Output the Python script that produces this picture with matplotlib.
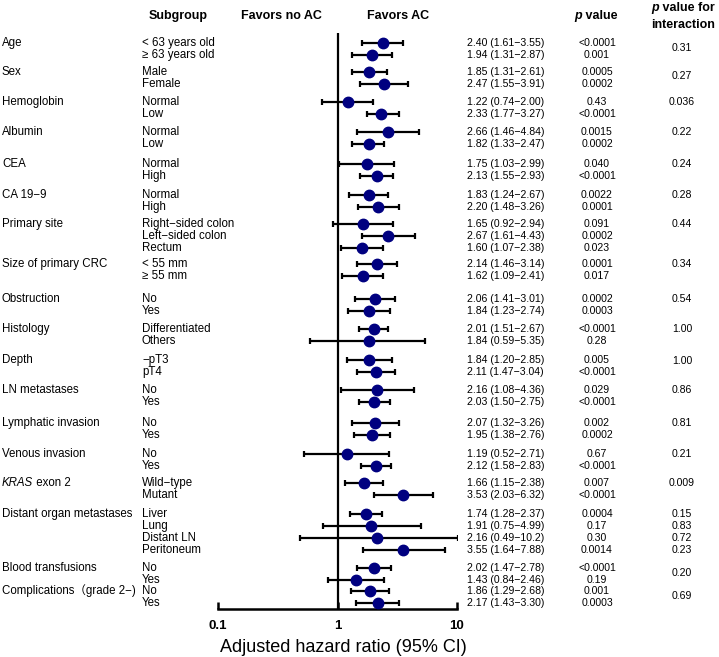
import matplotlib
matplotlib.use("Agg")
import matplotlib.pyplot as plt
import numpy as np

plt.rcParams['font.family'] = ['Liberation Sans', 'Noto Sans CJK JP', 'DejaVu Sans']

# ---------------- data ----------------
groups = ["Age", "Sex", "Hemoglobin", "Albumin", "CEA", "CA 19−9", "Primary site",
          "Size of primary CRC", "Obstruction", "Histology", "Depth", "LN metastases",
          "Lymphatic invasion", "Venous invasion", "KRAS exon 2",
          "Distant organ metastases", "Blood transfusions", "Complications（grade 2−)"]
subgroups = [
    ["< 63 years old", "≥ 63 years old"],
    ["Male", "Female"],
    ["Normal", "Low"],
    ["Normal", "Low"],
    ["Normal", "High"],
    ["Normal", "High"],
    ["Right−sided colon", "Left−sided colon", "Rectum"],
    ["< 55 mm", "≥ 55 mm"],
    ["No", "Yes"],
    ["Differentiated", "Others"],
    ["−pT3", "pT4"],
    ["No", "Yes"],
    ["No", "Yes"],
    ["No", "Yes"],
    ["Wild−type", "Mutant"],
    ["Liver", "Lung", "Distant LN", "Peritoneum"],
    ["No", "Yes"],
    ["No", "Yes"],
]
hr = [2.40, 1.94, 1.85, 2.47, 1.22, 2.33, 2.66, 1.82, 1.75, 2.13, 1.83, 2.20,
      1.65, 2.67, 1.60, 2.14, 1.62, 2.06, 1.84, 2.01, 1.84, 1.84, 2.11,
      2.16, 2.03, 2.07, 1.95, 1.19, 2.12, 1.66, 3.53,
      1.74, 1.91, 2.16, 3.55, 2.02, 1.43, 1.86, 2.17]
ci_low = [1.61, 1.31, 1.31, 1.55, 0.74, 1.77, 1.46, 1.33, 1.03, 1.55, 1.24, 1.48,
          0.92, 1.61, 1.07, 1.46, 1.09, 1.41, 1.23, 1.51, 0.59, 1.20, 1.47,
          1.08, 1.50, 1.32, 1.38, 0.52, 1.58, 1.15, 2.03,
          1.28, 0.75, 0.49, 1.64, 1.47, 0.84, 1.29, 1.43]
ci_high = [3.55, 2.87, 2.61, 3.91, 2.00, 3.27, 4.84, 2.47, 2.99, 2.93, 2.67, 3.26,
           2.94, 4.43, 2.38, 3.14, 2.41, 3.01, 2.74, 2.67, 5.35, 2.85, 3.04,
           4.36, 2.75, 3.26, 2.76, 2.71, 2.83, 2.38, 6.32,
           2.37, 4.99, 10.2, 7.88, 2.78, 2.46, 2.68, 3.30]
p_values = ["<0.0001", "0.001", "0.0005", "0.0002", "0.43", "<0.0001", "0.0015", "0.0002",
            "0.040", "<0.0001", "0.0022", "0.0001", "0.091", "0.0002", "0.023",
            "0.0001", "0.017", "0.0002", "0.0003", "<0.0001", "0.28", "0.005", "<0.0001",
            "0.029", "<0.0001", "0.002", "0.0002", "0.67", "<0.0001", "0.007", "<0.0001",
            "0.0004", "0.17", "0.30", "0.0014", "<0.0001", "0.19", "0.001", "0.0003"]
# interaction p per group (Distant organ metastases has one per subgroup)
p_interaction = ["0.31", "0.27", "0.036", "0.22", "0.24", "0.28", "0.44", "0.34", "0.54",
                 "1.00", "1.00", "0.86", "0.81", "0.21", "0.009",
                 ["0.15", "0.83", "0.72", "0.23"], "0.20", "0.69"]
xticks = [0.1, 1, 10]
xtick_labels = ["0.1", "1", "10"]

# ---------------- layout (pixel units) ----------------
W, H = 719, 657
y_first = 43
row_step = 12
group_gaps = [17, 18, 18, 20, 19, 17, 16, 23, 18, 19, 18, 21, 19, 17, 19, 18, 11]
int_offset = [0.45, 0.35, 0, 0, 0, 0, 0, 0, 0, 0, 0.1, 0, 0, 0, 0, 0, 0.45, 0.45]

row_y = []
group_y = []
y = y_first
for gi, subs in enumerate(subgroups):
    ys = []
    for si in range(len(subs)):
        ys.append(y)
        if si < len(subs) - 1:
            y += row_step
    group_y.append(ys)
    row_y.extend(ys)
    if gi < len(group_gaps):
        y += group_gaps[gi]
row_y = np.array(row_y, dtype=float)

fig = plt.figure(figsize=(W / 100, H / 100), dpi=100)
fig.patch.set_facecolor("white")

# text axes in pixel coordinates
axt = fig.add_axes([0, 0, 1, 1])
axt.set_xlim(0, W)
axt.set_ylim(H, 0)
axt.axis("off")

# forest axes
x_lo_px, x_hi_px = 218, 457
y_top_px, y_bot_px = 33, 609
ax = fig.add_axes([x_lo_px / W, (H - y_bot_px) / H, (x_hi_px - x_lo_px) / W,
                   (y_bot_px - y_top_px) / H])
ax.set_xscale("log")
ax.set_xlim(0.1, 10)
ax.set_ylim(y_bot_px, y_top_px)
ax.patch.set_alpha(0)
for s in ["top", "right", "left"]:
    ax.spines[s].set_visible(False)
ax.spines["bottom"].set_linewidth(1.8)
ax.set_yticks([])
ax.set_xticks(xticks)
ax.set_xticklabels([])
ax.xaxis.set_minor_locator(matplotlib.ticker.NullLocator())
ax.tick_params(axis="x", direction="in", length=5, width=1.8)
ax.axvline(1, color="black", lw=1.6, zorder=1)

hr_a = np.array(hr)
err = np.vstack([hr_a - np.array(ci_low), np.array(ci_high) - hr_a])
ax.errorbar(hr_a, row_y, xerr=err, fmt="o", color="#000080", ecolor="black",
            elinewidth=1.6, capsize=2.5, capthick=1.6, markersize=7.5, zorder=3)

# tick labels and axis title
for t, lab in zip(xticks, xtick_labels):
    px = x_lo_px + (np.log10(t) + 1) / 2 * (x_hi_px - x_lo_px)
    axt.text(px, 626, lab, ha="center", va="center", fontsize=9.5, fontweight="bold")
axt.text(343, 647, "Adjusted hazard ratio (95% CI)", ha="center", va="center", fontsize=13)

# headers
hdr_fs = 9
axt.text(178, 16, "Subgroup", ha="center", va="center", fontsize=hdr_fs, fontweight="bold")
axt.text(281, 16, "Favors no AC", ha="center", va="center", fontsize=hdr_fs, fontweight="bold")
axt.text(398, 16, "Favors AC", ha="center", va="center", fontsize=hdr_fs, fontweight="bold")
fig.canvas.draw()
r = fig.canvas.get_renderer()


def mixed(x_center, yy, parts, fs, weight="bold"):
    # parts: list of (text, style)
    objs = [axt.text(0, yy, t, ha="left", va="center", fontsize=fs, fontstyle=st,
                     fontweight=weight) for t, st in parts]
    widths = [o.get_window_extent(renderer=r).width for o in objs]
    x = x_center - sum(widths) / 2
    for o, w in zip(objs, widths):
        o.set_x(x)
        x += w
    return objs


mixed(596, 16, [("p", "italic"), (" value", "normal")], hdr_fs)
mixed(683, 8, [("p", "italic"), (" value for", "normal")], hdr_fs)
axt.text(683, 25, "interaction", ha="center", va="center", fontsize=hdr_fs, fontweight="bold")

# rows
lab_fs = 8.3
num_fs = 7.6


def fmt(v):
    return f"{v:.1f}" if v >= 10 else f"{v:.2f}"


for gi, (g, subs) in enumerate(zip(groups, subgroups)):
    ys = group_y[gi]
    if g.startswith("KRAS"):
        o1 = axt.text(2, ys[0], "KRAS", ha="left", va="center", fontsize=lab_fs, fontstyle="italic")
        w1 = o1.get_window_extent(renderer=r).width
        axt.text(2 + w1, ys[0], g[4:], ha="left", va="center", fontsize=lab_fs)
    else:
        axt.text(2, ys[0], g, ha="left", va="center", fontsize=lab_fs)
    for s, yy in zip(subs, ys):
        axt.text(142, yy, s, ha="left", va="center", fontsize=lab_fs)
    pi = p_interaction[gi]
    if isinstance(pi, list):
        for v, yy in zip(pi, ys):
            axt.text(682, yy, v, ha="center", va="center", fontsize=num_fs)
    else:
        axt.text(682, ys[0] + int_offset[gi] * row_step, pi, ha="center", va="center",
                 fontsize=num_fs)

for i, yy in enumerate(row_y):
    axt.text(467, yy, f"{fmt(hr[i])} ({fmt(ci_low[i])}−{fmt(ci_high[i])})",
             ha="left", va="center", fontsize=num_fs)
    axt.text(597, yy, p_values[i], ha="center", va="center", fontsize=num_fs)

fig.savefig("out.png", dpi=100)
